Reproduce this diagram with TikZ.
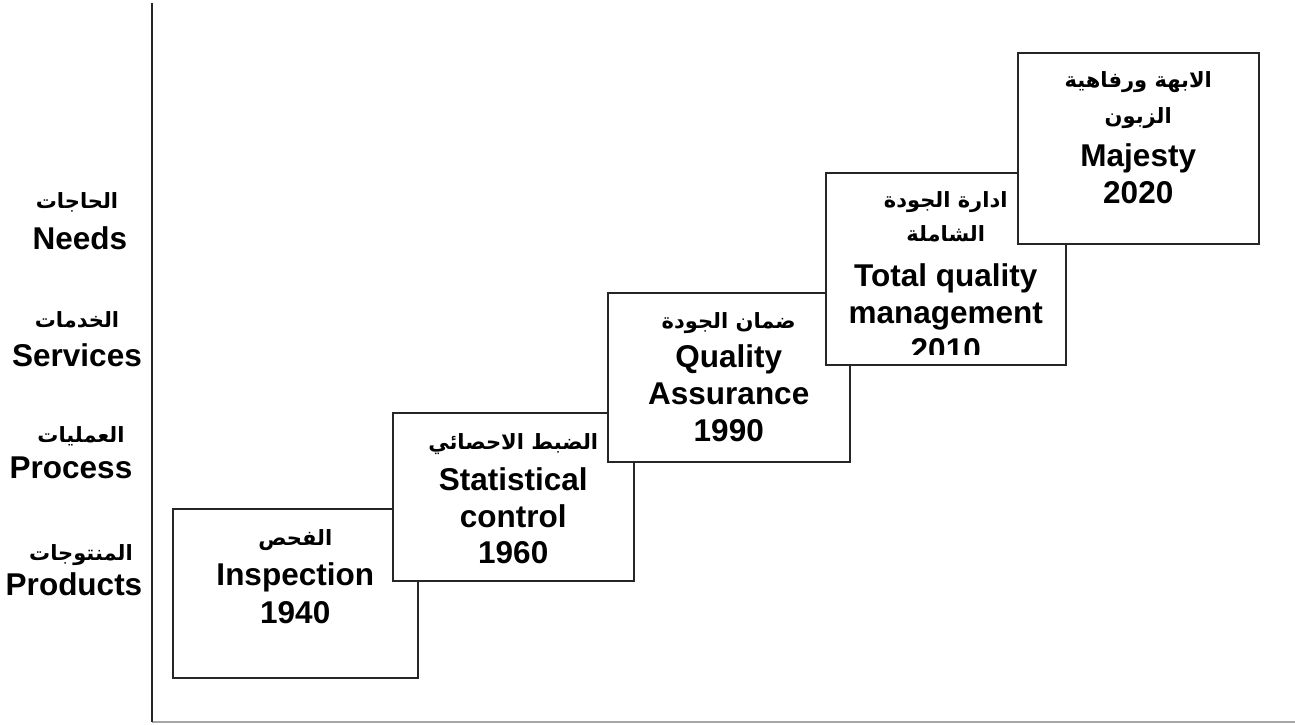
\documentclass[tikz,border=0pt]{standalone}
\usepackage{fontspec}
\setmainfont{Liberation Sans}
\newfontfamily\arabicfont[Script=Arabic]{DejaVu Sans}
\TeXXeTstate=1
\newcommand{\artxt}[1]{{\arabicfont\bfseries\beginR #1\endR}}

\tikzset{
  stage/.style={draw=black!85, line width=1.5pt, fill=white, inner sep=0pt, anchor=north west},
  en/.style={font=\bfseries\fontsize{31.5}{37}\selectfont, inner sep=0pt, anchor=base},
  ar/.style={font=\fontsize{21}{34}\selectfont, inner sep=0pt, anchor=base},
  axisline/.style={draw=black!85, line width=2.2pt},
  baseline/.style={draw=black!35, line width=2pt},
}

\begin{document}
\begin{tikzpicture}[x=1pt, y=-1pt]
\useasboundingbox (0,0) rectangle (1295,724);

% axes
\coordinate (top) at (152,3);
\coordinate (origin) at (152,722);
\coordinate (right) at (1295,722);
\draw[baseline] (origin) -- (right);
\draw[axisline] (top) -- (origin);

% levels on the vertical axis
\node[ar] (l4a) at (77,208) {\artxt{الحاجات}};
\node[en] (l4e) at (80,249) {Needs};
\node[ar] (l3a) at (77,327) {\artxt{الخدمات}};
\node[en] (l3e) at (77,366) {Services};
\node[ar] (l2a) at (81,442) {\artxt{العمليات}};
\node[en] (l2e) at (71,478) {Process};
\node[ar] (l1a) at (81,560) {\artxt{المنتوجات}};
\node[en] (l1e) at (74,595) {Products};

% stage 1
\node[stage, minimum width=245pt, minimum height=169pt] (b1) at (172,508) {};
\node[ar] (t1a) at ([yshift=-37pt]b1.north) {\artxt{الفحص}};
\node[en] (t1b) at ([yshift=-77pt]b1.north) {Inspection};
\node[en] (t1c) at ([yshift=-115pt]b1.north) {1940};

% stage 2
\node[stage, minimum width=241pt, minimum height=168pt] (b2) at (392,412) {};
\node[ar] (t2a) at ([yshift=-37pt]b2.north) {\artxt{الضبط الاحصائي}};
\node[en] (t2b) at ([yshift=-78pt]b2.north) {Statistical};
\node[en] (t2c) at ([yshift=-115pt]b2.north) {control};
\node[en] (t2d) at ([yshift=-151pt]b2.north) {1960};

% stage 3
\node[stage, minimum width=242pt, minimum height=169pt] (b3) at (607,292) {};
\node[ar] (t3a) at ([yshift=-36pt]b3.north) {\artxt{ضمان الجودة}};
\node[en] (t3b) at ([yshift=-75pt]b3.north) {Quality};
\node[en] (t3c) at ([yshift=-112pt]b3.north) {Assurance};
\node[en] (t3d) at ([yshift=-149pt]b3.north) {1990};

% stage 4 (last line cut by the box margin)
\node[stage, minimum width=240pt, minimum height=192pt] (b4) at (825,172) {};
\begin{scope}
  \clip (825,172) rectangle (1065,354);
  \node[ar] (t4a) at ([yshift=-35pt]b4.north) {\artxt{ادارة الجودة}};
  \node[ar] (t4b) at ([yshift=-69pt]b4.north) {\artxt{الشاملة}};
  \node[en] (t4c) at ([yshift=-114pt]b4.north) {Total quality};
  \node[en] (t4d) at ([yshift=-151pt]b4.north) {management};
  \node[en] (t4e) at ([yshift=-188pt]b4.north) {2010};
\end{scope}

% stage 5
\node[stage, minimum width=241pt, minimum height=191pt] (b5) at (1017,52) {};
\node[ar] (t5a) at ([yshift=-35pt]b5.north) {\artxt{الابهة ورفاهية}};
\node[ar] (t5b) at ([yshift=-71pt]b5.north) {\artxt{الزبون}};
\node[en] (t5c) at ([yshift=-114pt]b5.north) {Majesty};
\node[en] (t5d) at ([yshift=-151pt]b5.north) {2020};
\end{tikzpicture}
\end{document}
